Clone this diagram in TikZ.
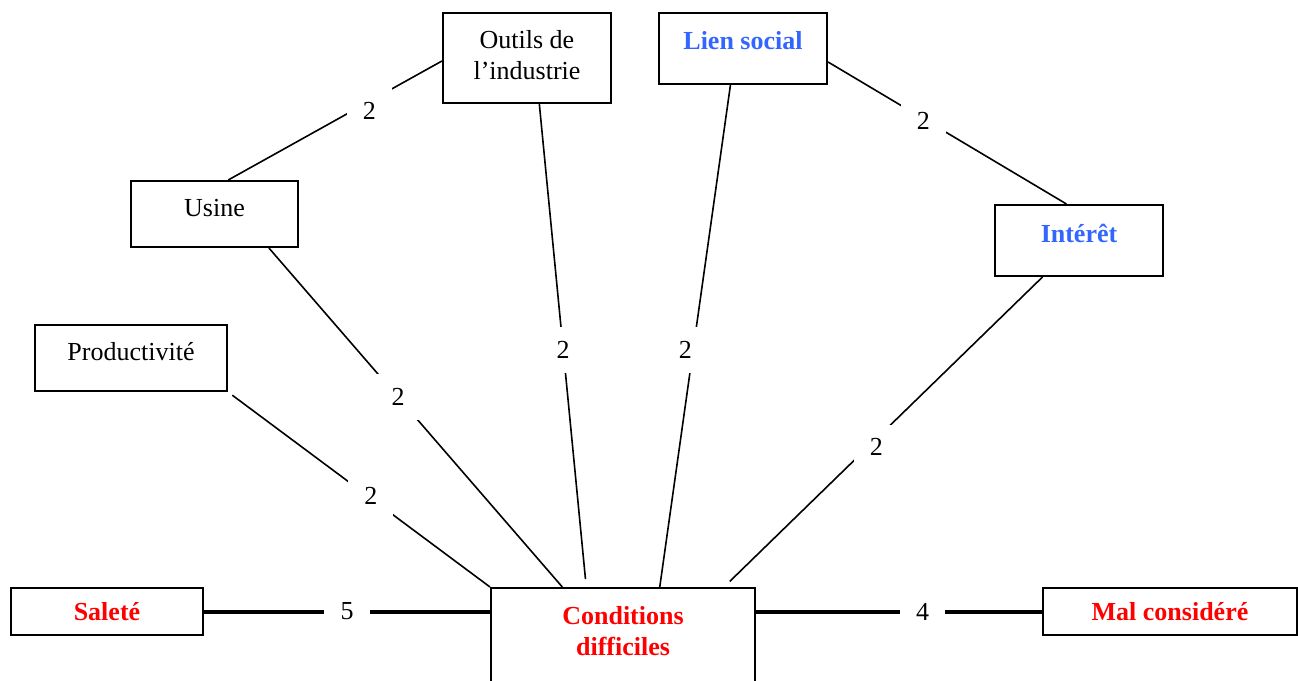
\documentclass[tikz,border=0pt]{standalone}
\usepackage{fontspec}
\setmainfont{Liberation Serif}
\usepackage{xcolor}

\definecolor{boxblue}{HTML}{3366FF}
\definecolor{boxred}{HTML}{FF0000}
\newcommand{\uptext}[2]{\raisebox{#1}[\height][\depth]{#2}}

\begin{document}
\begin{tikzpicture}[
    x=0.75pt, y=-0.75pt,
    box/.style n args={2}{draw, line width=1.5pt, inner sep=0pt, minimum width=#1, minimum height=#2, align=center},
    link/.style={line width=1.2pt},
    strong/.style={line width=3pt},
    num/.style={fill=white, inner sep=0pt, minimum size=34pt},
    every node/.style={font=\fontsize{19.5}{23.5}\selectfont}
]
\useasboundingbox (0,0) rectangle (1298,681);

% Boxes
\node[box={126pt}{67.5pt}] (outils) at (527,58) {\uptext{2pt}{Outils de}\\\uptext{2pt}{l’industrie}};
\node[box={126pt}{53.25pt}, text=boxblue, font=\fontsize{19.5}{23.5}\selectfont\bfseries] (lien) at (743,48.5) {\uptext{5.6pt}{Lien social}};
\node[box={125.25pt}{49.5pt}] (usine) at (214.5,214) {\uptext{4.5pt}{Usine}};
\node[box={126pt}{53.25pt}, text=boxblue, font=\fontsize{19.5}{23.5}\selectfont\bfseries] (interet) at (1079,240.5) {\uptext{5.6pt}{Intérêt}};
\node[box={144pt}{49.5pt}] (prod) at (131,358) {\uptext{4.5pt}{Productivité}};
\node[box={144pt}{35.25pt}, text=boxred, font=\fontsize{19.5}{23.5}\selectfont\bfseries] (salete) at (107,611.5) {Saleté};
\node[box={198pt}{150pt}, text=boxred, font=\fontsize{19.5}{23.5}\selectfont\bfseries] (cond) at (623,688) {\uptext{42.75pt}{Conditions}\\\uptext{42.75pt}{difficiles}};
\node[box={190.5pt}{35.25pt}, text=boxred, font=\fontsize{19.5}{23.5}\selectfont\bfseries] (malc) at (1170,611.5) {Mal considéré};

% Links with weights
\draw[link] (usine.68) -- (outils.182) node[num, pos=0.66, yshift=-7pt] {2};
\draw[link] (lien.-9) -- (interet.109) node[num, pos=0.40, yshift=-1.5pt] {2};
\draw[link] (usine.-32) -- (cond.121) node[num, pos=0.44] {2};
\draw[link, shorten >=6pt] (outils.-75) -- (cond.110) node[num, pos=0.505, yshift=-1.5pt] {2};
\draw[link] (lien.251) -- (cond.70) node[num, pos=0.524, xshift=-6pt, yshift=-1.5pt] {2};
\draw[link, shorten >=6pt] (interet.225) -- (cond.45) node[num, pos=0.53, xshift=2pt, yshift=-4.5pt] {2};
\draw[link, shorten <=4pt] (prod.south east) -- (cond.north west) node[num, pos=0.545, yshift=2pt] {2};

% Strong links
\draw[strong] (salete.east) -- (salete.east -| cond.west) node[num, pos=0.5] {5};
\draw[strong] (cond.east |- malc.west) -- (malc.west) node[num, pos=0.583] {4};

\end{tikzpicture}
\end{document}
